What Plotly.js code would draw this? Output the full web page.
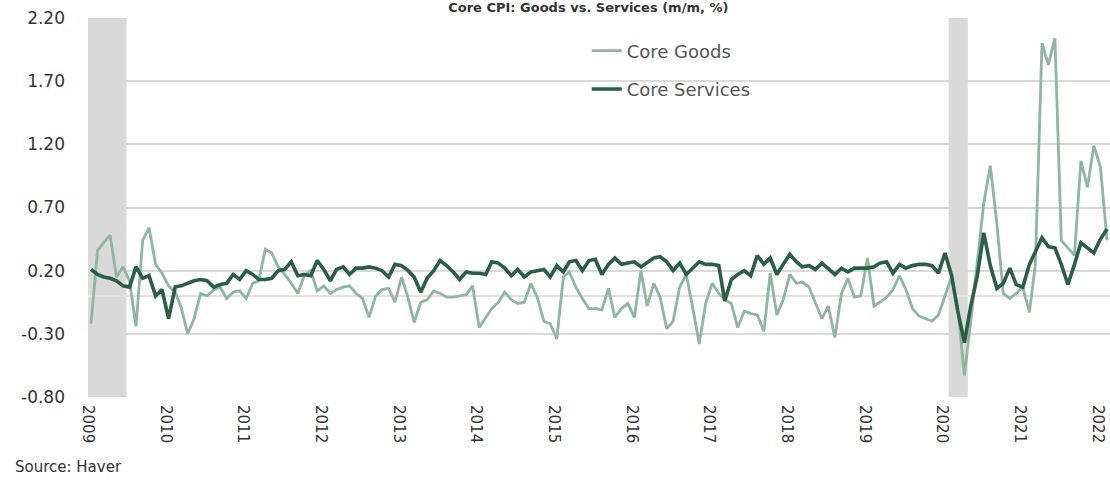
<!DOCTYPE html>
<html>
<head>
<meta charset="utf-8">
<script src="https://cdn.plot.ly/plotly-3.0.1.min.js"></script>
<style>
  html, body { margin: 0; padding: 0; background: #ffffff; }
  #chart { width: 1110px; height: 484px; }
</style>
</head>
<body>
<div id="chart"></div>
<script>
// Monthly data, Jan 2009 – Feb 2022 (m/m %)
const startYear = 2009;

const coreGoods = [
  // 2009
  -0.22, 0.36, 0.42, 0.48, 0.15, 0.23, 0.12, -0.24, 0.44, 0.54, 0.25, 0.18,
  // 2010
  0.08, 0.03, -0.09, -0.30, -0.18, 0.02, 0.00, 0.05, 0.07, -0.02, 0.03, 0.04,
  // 2011
  -0.02, 0.10, 0.12, 0.37, 0.34, 0.23, 0.17, 0.10, 0.02, 0.16, 0.20, 0.04,
  // 2012
  0.08, 0.02, 0.05, 0.07, 0.08, 0.02, -0.02, -0.17, 0.00, 0.05, 0.06, -0.05,
  // 2013
  0.15, -0.02, -0.21, -0.05, -0.03, 0.04, 0.02, -0.01, -0.01, 0.00, 0.01, 0.08,
  // 2014
  -0.25, -0.17, -0.10, -0.05, 0.03, -0.03, -0.06, -0.05, 0.10, -0.01, -0.20, -0.22,
  // 2015
  -0.34, 0.15, 0.19, 0.07, -0.02, -0.10, -0.10, -0.11, 0.06, -0.17, -0.10, -0.06,
  // 2016
  -0.17, 0.20, -0.08, 0.10, -0.01, -0.26, -0.20, 0.07, 0.17, -0.09, -0.38, -0.06,
  // 2017
  0.10, 0.02, -0.03, -0.06, -0.25, -0.12, -0.14, -0.15, -0.28, 0.18, -0.15, -0.03,
  // 2018
  0.17, 0.10, 0.11, 0.07, -0.05, -0.18, -0.08, -0.33, 0.02, 0.14, -0.01, 0.00,
  // 2019
  0.30, -0.08, -0.05, -0.01, 0.05, 0.16, 0.05, -0.10, -0.16, -0.18, -0.20, -0.15,
  // 2020
  0.00, 0.15, -0.10, -0.63, -0.20, 0.25, 0.73, 1.03, 0.57, 0.02, -0.02, 0.02,
  // 2021
  0.07, -0.13, 0.25, 2.00, 1.83, 2.04, 0.44, 0.38, 0.32, 1.07, 0.86, 1.19,
  // 2022
  1.02, 0.44
];

const coreServices = [
  // 2009
  0.21, 0.17, 0.15, 0.14, 0.12, 0.08, 0.07, 0.23, 0.14, 0.16, 0.00, 0.05,
  // 2010
  -0.18, 0.07, 0.08, 0.10, 0.12, 0.13, 0.12, 0.07, 0.09, 0.10, 0.17, 0.13,
  // 2011
  0.20, 0.17, 0.13, 0.13, 0.14, 0.20, 0.21, 0.27, 0.16, 0.17, 0.16, 0.28,
  // 2012
  0.21, 0.12, 0.21, 0.23, 0.17, 0.22, 0.22, 0.23, 0.22, 0.20, 0.15, 0.25,
  // 2013
  0.24, 0.20, 0.15, 0.03, 0.14, 0.20, 0.28, 0.24, 0.19, 0.13, 0.19, 0.18,
  // 2014
  0.18, 0.17, 0.27, 0.26, 0.22, 0.16, 0.21, 0.15, 0.19, 0.20, 0.21, 0.15,
  // 2015
  0.24, 0.19, 0.27, 0.28, 0.20, 0.28, 0.29, 0.17, 0.25, 0.30, 0.25, 0.26,
  // 2016
  0.27, 0.23, 0.26, 0.30, 0.31, 0.27, 0.20, 0.26, 0.17, 0.22, 0.27, 0.25,
  // 2017
  0.25, 0.24, -0.04, 0.13, 0.17, 0.20, 0.16, 0.32, 0.25, 0.30, 0.17, 0.25,
  // 2018
  0.33, 0.27, 0.23, 0.24, 0.21, 0.26, 0.22, 0.17, 0.22, 0.19, 0.22, 0.22,
  // 2019
  0.22, 0.23, 0.26, 0.27, 0.18, 0.25, 0.22, 0.24, 0.25, 0.25, 0.24, 0.18,
  // 2020
  0.34, 0.16, -0.12, -0.37, -0.08, 0.16, 0.50, 0.24, 0.06, 0.10, 0.22, 0.09,
  // 2021
  0.07, 0.25, 0.35, 0.46, 0.39, 0.38, 0.25, 0.09, 0.25, 0.42, 0.38, 0.34,
  // 2022
  0.45, 0.53
];

// Recession periods (shaded)
const recessionStarts = ['2009-01-01', '2020-02-01'];
const recessionEnds   = ['2009-07-01', '2020-05-01'];

// Y-axis ticks
const yTickVals = [-0.8, -0.3, 0.2, 0.7, 1.2, 1.7, 2.2];
const yTickText = ['-0.80', '-0.30', '0.20', '0.70', '1.20', '1.70', '2.20'];

// Month dates (mid-month) for each observation
const dates = coreGoods.map((_, i) => {
  const y = startYear + Math.floor(i / 12);
  const m = (i % 12) + 1;
  return y + '-' + String(m).padStart(2, '0') + '-15';
});

const FONT = 'DejaVu Sans, Open Sans, sans-serif';

const traces = [
  {
    x: dates, y: coreGoods, name: 'Core Goods', type: 'scatter', mode: 'lines',
    line: { color: '#8fb5a3', width: 2.8 }, legendgroup: 'g1'
  },
  {
    x: dates, y: coreServices, name: 'Core Services', type: 'scatter', mode: 'lines',
    line: { color: '#2b5e46', width: 3.6 }, legendgroup: 'g2'
  }
];

const shapes = recessionStarts.map((s, i) => ({
  type: 'rect', xref: 'x', yref: 'paper', x0: s, x1: recessionEnds[i], y0: 0, y1: 1,
  fillcolor: '#d9d9d9', line: { width: 0 }, layer: 'below'
}));

const layout = {
  width: 1110, height: 484,
  margin: { l: 88, r: 0, t: 18, b: 87 },
  paper_bgcolor: '#ffffff', plot_bgcolor: '#ffffff',
  font: { family: FONT, color: '#333333', size: 15 },
  title: {
    text: '<b>Core CPI: Goods vs. Services (m/m, %)</b>',
    x: 0.53, xanchor: 'center', y: 0.993, yref: 'container', yanchor: 'top',
    pad: { t: 0, b: 0 },
    font: { family: FONT, size: 13, color: '#333333' }
  },
  xaxis: {
    type: 'date', range: ['2009-01-01', '2022-03-01'],
    tick0: '2009-01-01', dtick: 'M12', tickformat: '%Y',
    tickangle: 90, ticks: '', showgrid: false, zeroline: false,
    showline: false, ticklabelstandoff: 7,
    tickfont: { family: FONT, size: 15, color: '#333333' }
  },
  yaxis: {
    range: [-0.8, 2.2], tickvals: yTickVals, ticktext: yTickText,
    showgrid: true, gridcolor: '#d9d9d9', gridwidth: 2,
    zeroline: true, zerolinecolor: '#eadfdf', zerolinewidth: 1.5,
    ticks: '', showline: false, ticklabelstandoff: 22,
    tickfont: { family: FONT, size: 17, color: '#333333' }
  },
  shapes: shapes,
  showlegend: true,
  legend: {
    x: 0.488, y: 0.962, xanchor: 'left', yanchor: 'top',
    bgcolor: 'rgba(255,255,255,0)', borderwidth: 0,
    traceorder: 'grouped', tracegroupgap: 12,
    font: { family: FONT, size: 18, color: '#555555' }
  },
  annotations: [
    {
      text: 'Source: Haver', xref: 'paper', yref: 'paper',
      x: -0.073, y: -0.185, xanchor: 'left', yanchor: 'middle', showarrow: false,
      font: { family: FONT, size: 15, color: '#333333' }
    }
  ]
};

Plotly.newPlot('chart', traces, layout, { displayModeBar: false, staticPlot: true });
</script>
</body>
</html>
